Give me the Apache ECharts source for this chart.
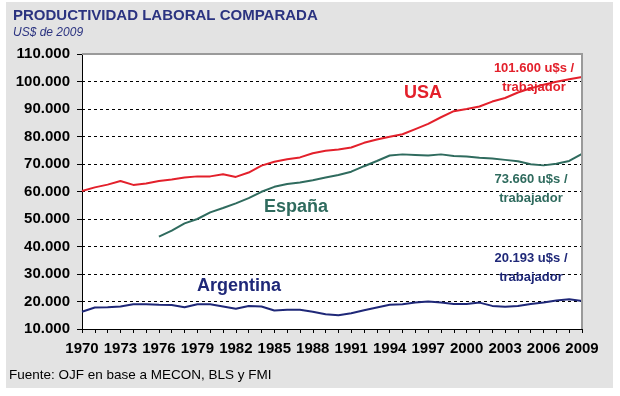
<!DOCTYPE html>
<html>
<head>
<meta charset="utf-8">
<script src="https://cdn.jsdelivr.net/npm/echarts@6/dist/echarts.min.js"></script>
<style>html,body{margin:0;padding:0;background:#fff}#c{width:620px;height:396px}</style>
</head>
<body>
<div id="c"></div>
<script>
const years = [];
for (let y = 1970; y <= 2009; y++) years.push(String(y));

const usa = [60200,61500,62500,63800,62400,62900,63800,64400,65100,65500,
             65500,66300,65300,66900,69400,70800,71700,72400,73900,74800,
             75300,76000,77700,78900,79900,80800,82700,84600,87000,89200,
             90000,90900,92700,94000,96000,97500,98800,99900,100800,101600];

const espana = [null,null,null,null,null,null,43600,45800,48400,50000,
                52400,54000,55700,57600,59900,61700,62700,63300,64100,65100,
                66000,67200,69200,71100,73100,73500,73300,73100,73500,72900,
                72700,72300,72000,71500,71000,69900,69500,70100,71100,73660];

const argentina = [16300,17800,17900,18200,19000,19000,18800,18700,17900,19000,
                   19000,18200,17400,18400,18200,16700,17000,17000,16300,15400,
                   15000,15700,16800,17800,18800,19000,19600,20000,19600,19100,
                   19100,19600,18400,18100,18400,19100,19600,20400,20800,20193];

const FONT = '"Liberation Sans", Arial, sans-serif';
const C_USA = '#e3202b', C_ESP = '#2f6b5e', C_ARG = '#1f2878', C_TITLE = '#2b3380';

function fmt(v){ return String(v).replace(/\B(?=(\d{3})+(?!\d))/g, '.'); }

const chart = echarts.init(document.getElementById('c'), null, {renderer:'canvas'});
chart.setOption({
  animation: false,
  backgroundColor: '#ffffff',
  grid: { left: 82, right: 38, top: 54, bottom: 67, show: true, backgroundColor: '#ffffff', borderColor: '#ffffff', borderWidth: 0, containLabel: false },
  xAxis: {
    type: 'category', data: years, boundaryGap: false,
    axisLine: { lineStyle: { color: '#000', width: 1 } },
    axisTick: { interval: 0, length: 4, lineStyle: { color: '#000' } },
    axisLabel: { interval: 2, margin: 12, color: '#000', fontFamily: FONT, fontWeight: 'bold', fontSize: 15 },
    splitLine: { show: false }
  },
  yAxis: {
    type: 'value', min: 10000, max: 110000, interval: 10000,
    axisLine: { show: true, lineStyle: { color: '#000', width: 1 } },
    axisTick: { show: true, length: 5, lineStyle: { color: '#000' } },
    axisLabel: { margin: 12, color: '#000', fontFamily: FONT, fontWeight: 'bold', fontSize: 15, formatter: fmt },
    splitLine: { show: true, lineStyle: { color: '#000', type: [3, 3], width: 1 } }
  },
  series: [
    { name: 'USA', type: 'line', data: usa, showSymbol: false, lineStyle: { color: C_USA, width: 2 }, z: 5 },
    { name: 'España', type: 'line', data: espana, showSymbol: false, connectNulls: false, lineStyle: { color: C_ESP, width: 2 }, z: 5 },
    { name: 'Argentina', type: 'line', data: argentina, showSymbol: false, lineStyle: { color: C_ARG, width: 2 }, z: 5 }
  ],
  graphic: [
    { type: 'rect', z: -10, shape: { x: 6, y: 2, width: 607, height: 386 }, style: { fill: '#e3e3e3' } },
    { type: 'polyline', z: 100, shape: { points: [[82, 54], [582, 54], [582, 329]] }, style: { stroke: '#9a9a9a', lineWidth: 2, fill: null } },
    { type: 'text', left: 13, top: 8, style: { text: 'PRODUCTIVIDAD LABORAL COMPARADA', font: 'bold 15px ' + FONT, fill: C_TITLE } },
    { type: 'text', left: 13, top: 27, style: { text: 'US$ de 2009', font: 'italic 12px ' + FONT, fill: C_TITLE } },
    { type: 'text', left: 9, top: 368, style: { text: 'Fuente: OJF en base a MECON, BLS y FMI', font: '13.5px ' + FONT, fill: '#000' } },
    { type: 'text', z: 50, x: 423, y: 93, style: { text: 'USA', font: 'bold 18px ' + FONT, fill: C_USA, align: 'center', verticalAlign: 'middle' } },
    { type: 'text', z: 50, x: 534, y: 78, style: { text: '101.600 u$s /\ntrabajador', font: 'bold 13px ' + FONT, lineHeight: 19, fill: C_USA, align: 'center', verticalAlign: 'middle' } },
    { type: 'text', z: 50, x: 296, y: 207, style: { text: 'España', font: 'bold 18px ' + FONT, fill: C_ESP, align: 'center', verticalAlign: 'middle' } },
    { type: 'text', z: 50, x: 531, y: 188.5, style: { text: '73.660 u$s /\ntrabajador', font: 'bold 13px ' + FONT, lineHeight: 19, fill: C_ESP, align: 'center', verticalAlign: 'middle' } },
    { type: 'text', z: 50, x: 239, y: 286, style: { text: 'Argentina', font: 'bold 18px ' + FONT, fill: C_ARG, align: 'center', verticalAlign: 'middle' } },
    { type: 'text', z: 50, x: 531, y: 268, style: { text: '20.193 u$s /\ntrabajador', font: 'bold 13px ' + FONT, lineHeight: 19, fill: C_ARG, align: 'center', verticalAlign: 'middle' } }
  ]
});
</script>
</body>
</html>
